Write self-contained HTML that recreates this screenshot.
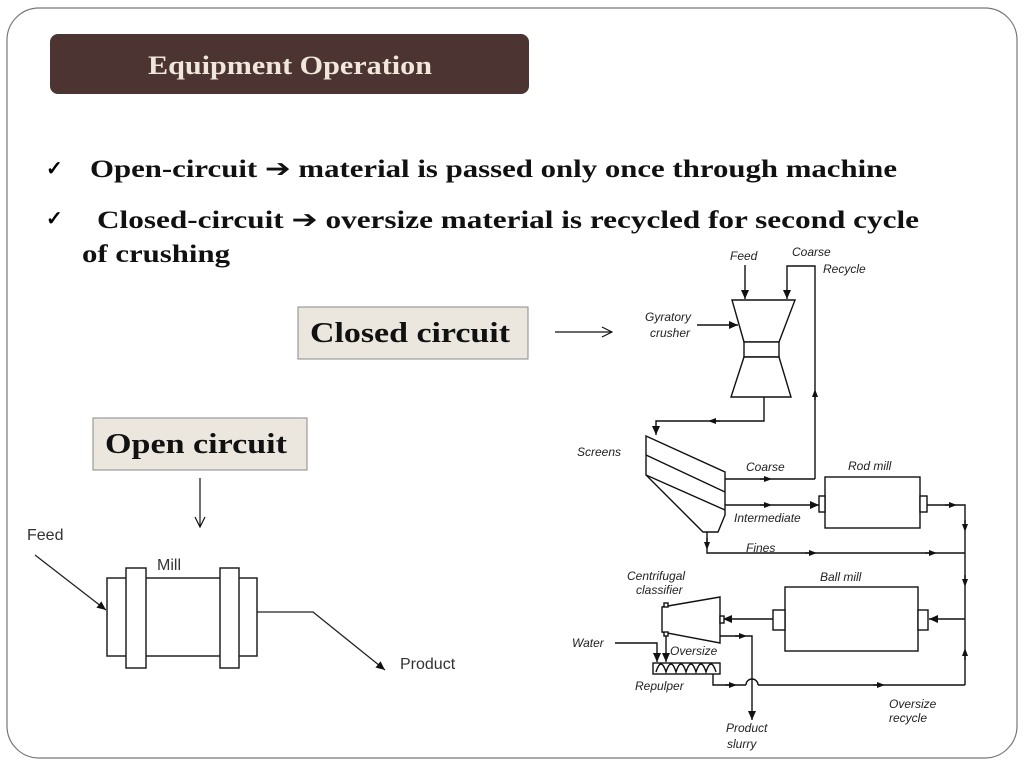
<!DOCTYPE html>
<html><head><meta charset="utf-8"><style>
html,body{margin:0;padding:0;background:#fff;}
svg{display:block;}
.s{font-family:"Liberation Serif",serif;font-weight:bold;}
.d{font-family:"Liberation Sans",sans-serif;font-style:italic;font-size:12px;fill:#222;}
.a{font-family:"Liberation Sans",sans-serif;font-size:16px;fill:#333;}
</style></head><body>
<svg width="1024" height="768" viewBox="0 0 1024 768" xmlns="http://www.w3.org/2000/svg">
<defs>
<marker id="ar" markerWidth="10" markerHeight="10" refX="9" refY="5" orient="auto" markerUnits="userSpaceOnUse"><path d="M0,1 L9,5 L0,9 Z" fill="#111"/></marker>
<marker id="op" markerWidth="12" markerHeight="12" refX="11" refY="6" orient="auto" markerUnits="userSpaceOnUse"><path d="M1,1 L11,6 L1,11" fill="none" stroke="#111" stroke-width="1.2"/></marker>
<marker id="mid" markerWidth="8" markerHeight="8" refX="4" refY="4" orient="auto" markerUnits="userSpaceOnUse"><path d="M0,1 L8,4 L0,7 Z" fill="#111"/></marker>
</defs>
<rect x="7" y="8" width="1010" height="750" rx="32" fill="#fff" stroke="#777" stroke-width="1.2"/>
<rect x="50" y="34" width="479" height="60" rx="8" fill="#4b3431"/>
<text x="148" y="74" class="s" font-size="26" fill="#f0e6dc" textLength="284" lengthAdjust="spacingAndGlyphs">Equipment Operation</text>

<text x="46" y="175" class="s" font-size="20" font-weight="normal">✓</text>
<text x="90" y="177" class="s" font-size="25" fill="#111" textLength="807" lengthAdjust="spacingAndGlyphs">Open-circuit <tspan font-family="DejaVu Sans">➔</tspan> material is passed only once  through machine</text>
<text x="46" y="225" class="s" font-size="20" font-weight="normal">✓</text>
<text x="97" y="228" class="s" font-size="25" fill="#111" textLength="822" lengthAdjust="spacingAndGlyphs">Closed-circuit  <tspan font-family="DejaVu Sans">➔</tspan>  oversize  material  is  recycled  for  second  cycle</text>
<text x="82" y="262" class="s" font-size="25" fill="#111" textLength="148" lengthAdjust="spacingAndGlyphs">of crushing</text>

<rect x="298" y="307" width="230" height="52" fill="#ebe7df" stroke="#888"/>
<text x="310" y="342" class="s" font-size="28" fill="#111" textLength="200" lengthAdjust="spacingAndGlyphs">Closed circuit</text>
<line x1="555" y1="332" x2="612" y2="332" stroke="#111" stroke-width="1.2" marker-end="url(#op)"/>

<rect x="93" y="418" width="214" height="52" fill="#ebe7df" stroke="#888"/>
<text x="105" y="453" class="s" font-size="28" fill="#111" textLength="182" lengthAdjust="spacingAndGlyphs">Open circuit</text>
<line x1="200" y1="478" x2="200" y2="527" stroke="#111" stroke-width="1.2" marker-end="url(#op)"/>

<g stroke="#222" stroke-width="1.5" fill="#fff">
<rect x="107" y="578" width="150" height="78"/>
<rect x="126" y="568" width="20" height="100"/>
<rect x="220" y="568" width="19" height="100"/>
</g>
<text x="27" y="540" class="a">Feed</text>
<text x="157" y="570" class="a">Mill</text>
<text x="400" y="669" class="a">Product</text>
<line x1="35" y1="555" x2="106" y2="610" stroke="#222" stroke-width="1.3" marker-end="url(#ar)"/>
<polyline points="257,612 313,612 385,670" fill="none" stroke="#222" stroke-width="1.3" marker-end="url(#ar)"/>

<g stroke="#111" stroke-width="1.4" fill="none">
<polygon points="732,300 795,300 779,342 744,342" fill="#fff"/>
<rect x="744" y="342" width="35" height="15" fill="#fff"/>
<polygon points="744,357 779,357 791,397 731,397" fill="#fff"/>
<line x1="745" y1="265" x2="745" y2="299" marker-end="url(#ar)"/>
<polyline points="815,479 815,266 787,266 787,299" marker-end="url(#ar)"/>
<line x1="815" y1="400" x2="815" y2="393" marker-end="url(#mid)"/>
<line x1="697" y1="325" x2="738" y2="325" marker-end="url(#ar)"/>
<polyline points="764,397 764,421 656,421 656,435" marker-end="url(#ar)"/>
<line x1="720" y1="421" x2="712" y2="421" marker-end="url(#mid)"/>
<polygon points="646,436 725,472 725,515 718,532 703,532 646,475" fill="#fff"/>
<line x1="646" y1="455" x2="725" y2="492"/>
<line x1="646" y1="475" x2="725" y2="510"/>
<polyline points="725,479 815,479"/>
<line x1="760" y1="479" x2="768" y2="479" marker-end="url(#mid)"/>
<line x1="725" y1="505" x2="819" y2="505" marker-end="url(#ar)"/>
<line x1="760" y1="505" x2="768" y2="505" marker-end="url(#mid)"/>
<rect x="825" y="477" width="95" height="51" fill="#fff"/>
<rect x="819" y="496" width="6" height="16" fill="#fff"/>
<rect x="920" y="496" width="7" height="16" fill="#fff"/>
<polyline points="927,505 965,505 965,685"/>
<line x1="945" y1="505" x2="953" y2="505" marker-end="url(#mid)"/>
<line x1="965" y1="520" x2="965" y2="528" marker-end="url(#mid)"/>
<line x1="965" y1="575" x2="965" y2="583" marker-end="url(#mid)"/>
<polyline points="707,532 707,553 965,553"/>
<line x1="707" y1="538" x2="707" y2="546" marker-end="url(#mid)"/>
<line x1="805" y1="553" x2="813" y2="553" marker-end="url(#mid)"/>
<line x1="925" y1="553" x2="933" y2="553" marker-end="url(#mid)"/>
<rect x="785" y="587" width="133" height="64" fill="#fff"/>
<rect x="773" y="610" width="12" height="20" fill="#fff"/>
<rect x="918" y="610" width="10" height="20" fill="#fff"/>
<line x1="965" y1="619" x2="929" y2="619" marker-end="url(#ar)"/>
<line x1="773" y1="619" x2="723" y2="619" marker-end="url(#ar)"/>
<polygon points="662,607 720,597 720,643 662,632" fill="#fff"/>
<rect x="720" y="616" width="4" height="7" fill="#fff"/>
<rect x="664" y="603" width="4" height="4" fill="#fff"/>
<rect x="664" y="632" width="4" height="4" fill="#fff"/>
<polyline points="720,636 752,636 752,720" marker-end="url(#ar)"/>
<line x1="735" y1="636" x2="743" y2="636" marker-end="url(#mid)"/>
<polyline points="615,643 657,643 657,662" marker-end="url(#ar)"/>
<line x1="666" y1="636" x2="666" y2="662" marker-end="url(#ar)"/>
<rect x="653" y="663" width="67" height="11" fill="#fff"/>
<path d="M656,672 q5,-16 10,0 q5,-16 10,0 q5,-16 10,0 q5,-16 10,0 q5,-16 10,0 q5,-16 10,0"/>
<polyline points="713,674 713,685 746,685"/>
<path d="M746,685 a6,6 0 0 1 12,0"/>
<polyline points="758,685 965,685"/>
<line x1="725" y1="685" x2="733" y2="685" marker-end="url(#mid)"/>
<line x1="873" y1="685" x2="881" y2="685" marker-end="url(#mid)"/>
<line x1="965" y1="660" x2="965" y2="652" marker-end="url(#mid)"/>
</g>
<text x="730" y="260" class="d">Feed</text>
<text x="792" y="256" class="d">Coarse</text>
<text x="823" y="273" class="d">Recycle</text>
<text x="645" y="321" class="d">Gyratory</text>
<text x="650" y="337" class="d">crusher</text>
<text x="577" y="456" class="d">Screens</text>
<text x="746" y="471" class="d">Coarse</text>
<text x="848" y="470" class="d">Rod mill</text>
<text x="734" y="522" class="d">Intermediate</text>
<text x="746" y="552" class="d">Fines</text>
<text x="627" y="580" class="d">Centrifugal</text>
<text x="636" y="594" class="d">classifier</text>
<text x="820" y="581" class="d">Ball mill</text>
<text x="572" y="647" class="d">Water</text>
<text x="670" y="655" class="d">Oversize</text>
<text x="635" y="690" class="d">Repulper</text>
<text x="726" y="732" class="d">Product</text>
<text x="727" y="748" class="d">slurry</text>
<text x="889" y="708" class="d">Oversize</text>
<text x="889" y="722" class="d">recycle</text>
</svg>
</body></html>
